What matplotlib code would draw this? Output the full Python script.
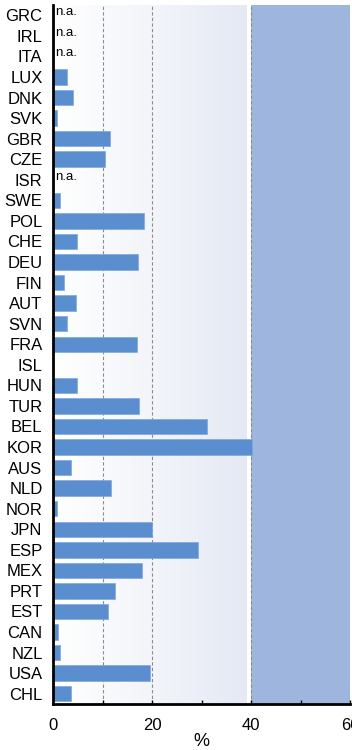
import numpy as np
import matplotlib.pyplot as plt
from matplotlib.colors import LinearSegmentedColormap

# countries, top to bottom
countries = ['GRC', 'IRL', 'ITA', 'LUX', 'DNK', 'SVK', 'GBR', 'CZE', 'ISR', 'SWE',
             'POL', 'CHE', 'DEU', 'FIN', 'AUT', 'SVN', 'FRA', 'ISL', 'HUN', 'TUR',
             'BEL', 'KOR', 'AUS', 'NLD', 'NOR', 'JPN', 'ESP', 'MEX', 'PRT', 'EST',
             'CAN', 'NZL', 'USA', 'CHL']
# share in %, None = not available
values = [None, None, None, 2.8, 4.0, 0.75, 11.6, 10.6, None, 1.5,
          18.4, 4.9, 17.2, 2.2, 4.6, 2.9, 16.9, 0.1, 4.9, 17.4,
          31.1, 40.2, 3.6, 11.7, 0.75, 20.0, 29.2, 17.9, 12.6, 11.2,
          1.0, 1.4, 19.5, 3.6]
xticks = [0, 20, 40, 60]

plt.rcParams['font.family'] = ['Liberation Sans Narrow', 'Liberation Sans', 'DejaVu Sans']

fig = plt.figure(figsize=(3.52, 7.5), dpi=100)
ax = fig.add_axes([53 / 352, 1 - 704 / 750, 297 / 352, 699 / 750])

n = len(countries)
ypos = np.arange(n)

# background: soft gradient up to 40, solid band 40-60
grad = LinearSegmentedColormap.from_list('bg', ['#ffffff', '#f3f5fa', '#e4e9f4'])
ax.imshow(np.linspace(0, 1, 256)[None, :], cmap=grad, aspect='auto',
          extent=(0, 39, n - 0.5, -0.5), zorder=0)
ax.axvspan(40, 60, color='#9eb6de', lw=0, zorder=0)

for xg in [10, 20, 40, 60]:
    ax.axvline(xg, color='#8c8c8c', ls=(0, (3, 2)), lw=0.8, zorder=1)

vals = [0 if v is None else v for v in values]
ax.barh(ypos, vals, height=0.75, color='#5a8ecf', edgecolor='#7fa8dc',
        linewidth=0.5, zorder=2)
for y, v in zip(ypos, values):
    if v is None:
        ax.text(0.5, y - 0.15, 'n.a.', fontsize=9.5, ha='left', va='center',
                family=['Liberation Sans', 'DejaVu Sans'], zorder=3)

ax.set_ylim(n - 0.5, -0.5)
ax.set_xlim(0, 60)
ax.set_yticks(ypos)
ax.set_yticklabels(countries, fontsize=12)
ax.tick_params(axis='y', length=0, pad=7.5)
ax.set_xticks(xticks)
ax.set_xticks([10, 30, 50], minor=True)
ax.tick_params(axis='x', which='both', direction='in', length=3, width=1,
               labelsize=12, pad=10)
ax.set_xlabel('%', fontsize=13, labelpad=0)

for s in ['top', 'right']:
    ax.spines[s].set_visible(False)
for s in ['left', 'bottom']:
    ax.spines[s].set_linewidth(2)
    ax.spines[s].set_zorder(4)

fig.savefig('out.png', dpi=100)
